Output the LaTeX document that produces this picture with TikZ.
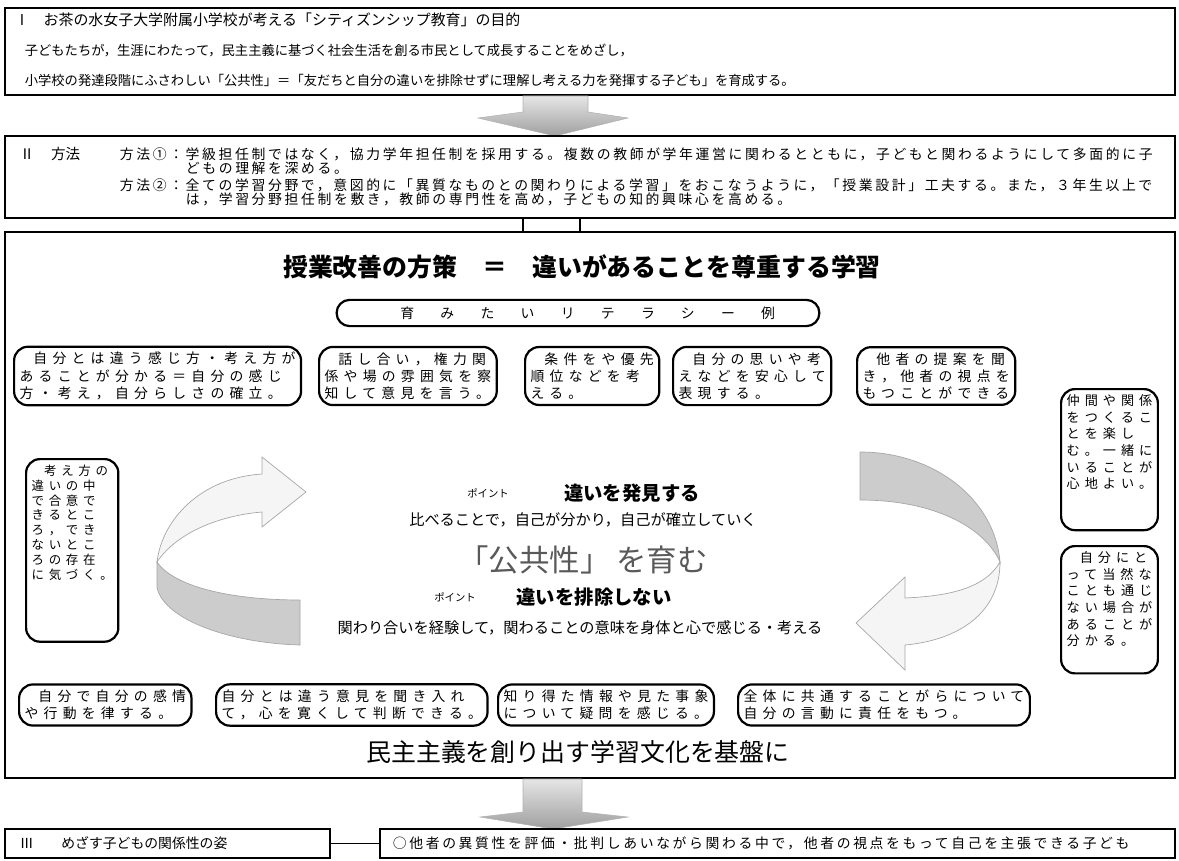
\documentclass[tikz,border=0pt]{standalone}
\usepackage{fontspec}
\setmainfont{Noto Sans CJK JP}
\newfontfamily\jpline[LetterSpace=19]{Noto Sans CJK JP}
\newfontfamily\jpbox[LetterSpace=38]{Noto Sans CJK JP}
\newfontfamily\jpspread[LetterSpace=190]{Noto Sans CJK JP}
\usetikzlibrary{fit}

\tikzset{
  panel/.style={draw, line width=0.9pt, inner sep=0pt},
  talk/.style={draw, line width=1.6pt, rounded corners=10pt, align=left,
    inner xsep=4pt, inner ysep=4pt, anchor=west,
    font=\jpbox\fontsize{10}{12.4}\selectfont},
  tallk/.style={talk, font=\jpbox\fontsize{9.5}{12}\selectfont, anchor=north west},
  bigarrow/.style={draw=gray!60, top color=gray!20, bottom color=gray!75},
  frontband/.style={draw=gray!70, fill=gray!8, line width=0.5pt},
  backband/.style={draw=gray!70, fill=gray!40, line width=0.5pt},
  plain/.style={anchor=west, font=\fontsize{9.6}{11}\selectfont},
  method/.style={anchor=west, font=\jpline\fontsize{10}{11}\selectfont},
  point/.style={font=\fontsize{7.5}{9}\selectfont},
  keyword/.style={font=\fontsize{14}{16}\selectfont\bfseries},
  remark/.style={font=\fontsize{11}{13}\selectfont}
}

\begin{document}
\begin{tikzpicture}[x=0.0254cm, y=-0.0254cm]
\useasboundingbox (0,0) rectangle (1179,861);

% I : aim
\node[panel, fit={(5,8) (1175,95)}] (aim) {};
\node[anchor=west, font=\fontsize{10.8}{13}\selectfont] (aimhead) at (15,20)
  {I\hspace{14pt}お茶の水女子大学附属小学校が考える「シティズンシップ教育」の目的};
\node[plain] (aimone) at (20,50)
  {子どもたちが，生涯にわたって，民主主義に基づく社会生活を創る市民として成長することをめざし，};
\node[plain] (aimtwo) at (20,80)
  {小学校の発達段階にふさわしい「公共性」＝「友だちと自分の違いを排除せずに理解し考える力を発揮する子ども」を育成する。};

\path[bigarrow] (523,96) -- (588,96) -- (588,112) -- (628,118) -- (555,136)
  -- (478,118) -- (523,112) -- cycle;

% II : method
\node[panel, fit={(5,136) (1175,218)}] (way) {};
\node[anchor=west, font=\fontsize{10.5}{12}\selectfont] (wayhead) at (15,154)
  {Ⅱ\hspace{12pt}方法};
\node[method] (wayonea) at (115,154)
  {方法①：学級担任制ではなく，協力学年担任制を採用する。複数の教師が学年運営に関わるとともに，子どもと関わるようにして多面的に子};
\node[method] (wayoneb) at (181,168) {どもの理解を深める。};
\node[method] (waytwoa) at (115,185)
  {方法②：全ての学習分野で，意図的に「異質なものとの関わりによる学習」をおこなうように，「授業設計」工夫する。また，３年生以上で};
\node[method] (waytwob) at (181,199)
  {は，学習分野担任制を敷き，教師の専門性を高め，子どもの知的興味心を高める。};

\draw[line width=0.8pt] (523,218) -- (523,232);
\draw[line width=0.8pt] (580,218) -- (580,232);

% main frame
\node[panel, fit={(5,232) (1175,778)}] (plan) {};
\node[font=\fontsize{18}{20}\selectfont\bfseries] (plantitle) at (582,267)
  {授業改善の方策\hspace{18pt}＝\hspace{18pt}違いがあることを尊重する学習};
\node[draw, line width=1.6pt, rounded corners=9.5pt, minimum width=349pt,
  minimum height=19pt, font=\jpspread\fontsize{10}{12}\selectfont] (literacy) at (578,313)
  {\hspace{14pt}育みたいリテラシー例};

% literacy examples, upper row
\node[talk] (selfway) at (13,376)
  {\hspace{1em}自分とは違う感じ方・考え方が\\あることが分かる＝自分の感じ\\方・考え，自分らしさの確立。};
\node[talk] (talkpower) at (318,376)
  {\hspace{1em}話し合い，権力関\\係や場の雰囲気を察\\知して意見を言う。};
\node[talk] (priority) at (524,376)
  {\hspace{1em}条件をや優先\\順位などを考\\える。};
\node[talk] (express) at (672,376)
  {\hspace{1em}自分の思いや考\\えなどを安心して\\表現する。};
\node[talk] (others) at (856,376)
  {\hspace{1em}他者の提案を聞\\き，他者の視点を\\もつことができる};

% side boxes
\node[tallk, font=\jpbox\fontsize{9}{10.8}\selectfont] (agree) at (25,458)
  {\hspace{1em}考え方の\\違いの中\\で合意で\\きるとこ\\ろ，でき\\ないとこ\\ろの存在\\に気づく。\\[30pt]~};
\node[tallk] (friends) at (1060,388)
  {仲間や関係\\をつくるこ\\とを楽し\\む。一緒に\\いることが\\心地よい。\\[14pt]~};
\node[tallk] (natural) at (1060,545)
  {\hspace{1em}自分にと\\って当然な\\ことも通じ\\ない場合が\\あることが\\分かる。\\[4pt]~};

% turning arrows
\path[frontband] (262,474) -- (262,457) -- (306,492) -- (262,527) -- (262,512)
  .. controls (215,516) and (175,535) .. (157,562)
  .. controls (162,520) and (200,478) .. (262,474) -- cycle;
\path[backband] (157,562) .. controls (175,588) and (235,600) .. (300,600)
  -- (300,645) .. controls (230,643) and (165,620) .. (157,588) -- cycle;
\path[backband] (860,452) .. controls (935,452) and (995,500) .. (1000,562)
  .. controls (985,528) and (935,500) .. (860,500) -- cycle;
\path[frontband] (1000,562) .. controls (1000,612) and (960,640) .. (905,645)
  -- (905,670) -- (856,623) -- (905,577) -- (905,598)
  .. controls (950,596) and (985,588) .. (1000,562) -- cycle;

% points
\node[point] (pointa) at (488,493) {ポイント};
\node[keyword] (discover) at (632,493) {違いを発見する};
\node[remark] (compare) at (583,520) {比べることで，自己が分かり，自己が確立していく};
\node[font=\fontsize{22}{24}\selectfont, text=black!65] (public) at (583,560)
  {「公共性」\hspace{4pt}を育む};
\node[point] (pointb) at (455,597) {ポイント};
\node[keyword] (noexclude) at (594,597) {違いを排除しない};
\node[remark] (relate) at (580,628)
  {関わり合いを経験して，関わることの意味を身体と心で感じる・考える};

% literacy examples, lower row
\node[talk] (control) at (18,705)
  {\hspace{1em}自分で自分の感情\\や行動を律する。};
\node[talk] (listen) at (215,705)
  {自分とは違う意見を聞き入れ\\て，心を寛くして判断できる。};
\node[talk] (doubt) at (497,705)
  {知り得た情報や見た事象\\について疑問を感じる。};
\node[talk] (common) at (737,705)
  {全体に共通することがらについて\\自分の言動に責任をもつ。};

\node[font=\fontsize{18}{20}\selectfont] (base) at (578,752)
  {民主主義を創り出す学習文化を基盤に};

\path[bigarrow] (523,779) -- (582,779) -- (582,812) -- (628,817) -- (553,829)
  -- (480,817) -- (523,812) -- cycle;

% III : goal
\node[panel, fit={(5,829) (330,858)}] (goalhead) {};
\node[anchor=west, font=\fontsize{10}{12}\selectfont] (goaltitle) at (15,843)
  {Ⅲ\hspace{20pt}めざす子どもの関係性の姿};
\node[panel, fit={(380,829) (1175,858)}] (goal) {};
\node[anchor=west, font=\jpline\fontsize{10}{12}\selectfont] (goaltext) at (388,843)
  {○他者の異質性を評価・批判しあいながら関わる中で，他者の視点をもって自己を主張できる子ども};
\draw[line width=0.8pt] (goalhead) -- (goal);
\end{tikzpicture}
\end{document}
